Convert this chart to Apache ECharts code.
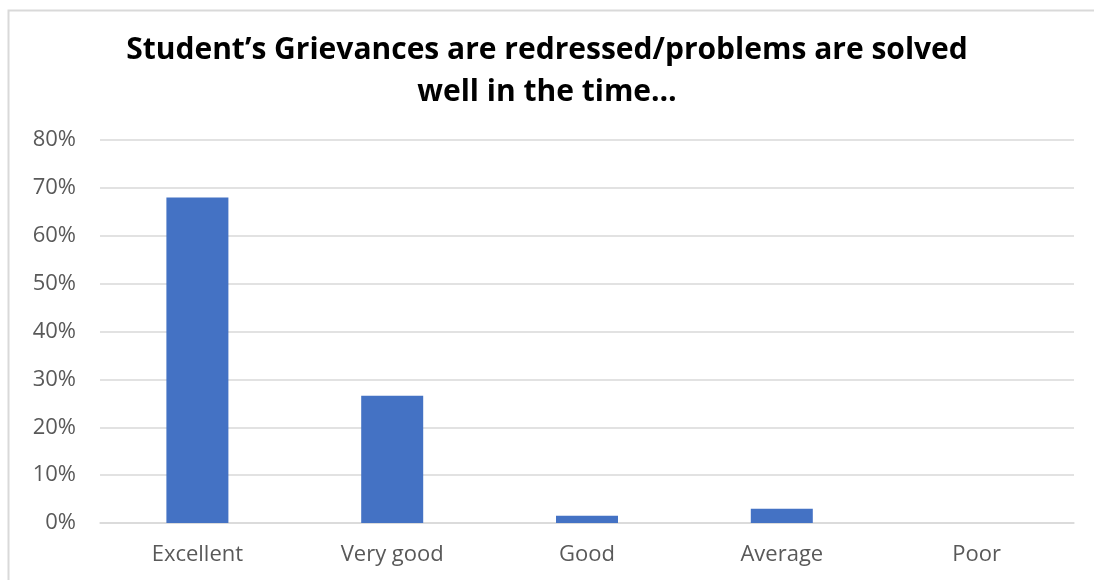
<!DOCTYPE html>
<html>
<head>
<meta charset="utf-8">
<script src="https://cdn.jsdelivr.net/npm/echarts@6/dist/echarts.min.js"></script>
<style>html,body{margin:0;padding:0;background:#fff;}#c{width:1094px;height:580px;}</style>
</head>
<body>
<div id="c"></div>
<script>
var categories = ['Excellent', 'Very good', 'Good', 'Average', 'Poor'];
var values = [0.68, 0.266, 0.015, 0.03, 0];
var titleText = 'Student\u2019s Grievances are redressed/problems are solved\nwell in the time\u2026';

var chart = echarts.init(document.getElementById('c'));
chart.setOption({
  animation: false,
  backgroundColor: '#ffffff',
  graphic: [{
    type: 'rect', left: 6, top: 8, silent: true,
    shape: { width: 1087, height: 600 },
    style: { fill: 'none', stroke: '#d9d9d9', lineWidth: 2 }
  }],
  title: {
    text: titleText, left: 'center', top: 24,
    textStyle: { fontFamily: 'Open Sans', fontWeight: 'bold', fontSize: 30, color: '#000', lineHeight: 42 },
    padding: [5, 5, 5, 25]
  },
  grid: { left: 100, right: 20, top: 140, bottom: 57 },
  xAxis: {
    type: 'category', data: categories,
    axisLine: { lineStyle: { color: '#d9d9d9', width: 1.5 } },
    axisTick: { show: false },
    axisLabel: { color: '#595959', fontSize: 22, fontFamily: 'Open Sans', margin: 21 }
  },
  yAxis: {
    type: 'value', min: 0, max: 0.8, interval: 0.1,
    axisLine: { show: false }, axisTick: { show: false },
    splitLine: { lineStyle: { color: '#d9d9d9', width: 1.5 } },
    axisLabel: {
      color: '#595959', fontSize: 22, fontFamily: 'Open Sans', margin: 24,
      formatter: function (v) { return Math.round(v * 100) + '%'; }
    }
  },
  series: [{
    type: 'bar', data: values, barWidth: 62,
    itemStyle: { color: '#4472C4' }
  }]
});
</script>
</body>
</html>
